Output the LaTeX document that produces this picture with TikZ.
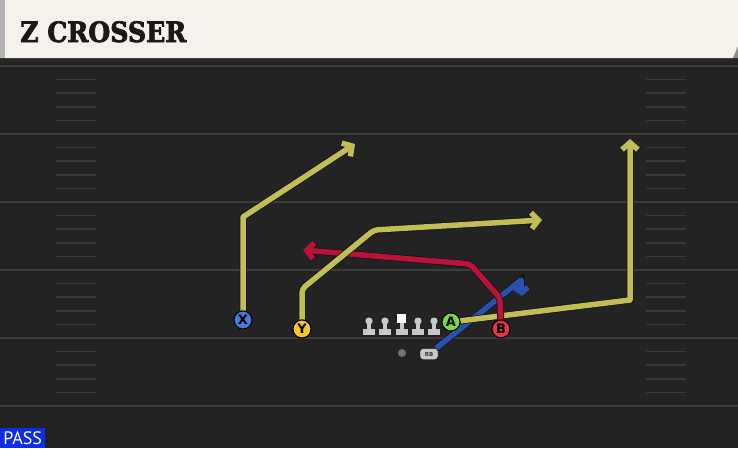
\documentclass[tikz,border=0pt]{standalone}
\usepackage{fontspec}
\newfontfamily\titlefont{DejaVu Serif Condensed}[BoldFeatures={FakeBold=2.5}]
\newfontfamily\letterfont{DejaVu Sans}
\newfontfamily\tagfont{PT Sans}
\usetikzlibrary{positioning, arrows.meta, shapes, backgrounds}

\definecolor{fieldgray}{RGB}{35,35,35}
\definecolor{yardgray}{RGB}{60,60,60}
\definecolor{hashgray}{RGB}{57,57,57}
\definecolor{titlecream}{RGB}{245,242,235}
\definecolor{passblue}{RGB}{15,45,230}
\definecolor{routeyellow}{RGB}{192,190,84}
\definecolor{routered}{RGB}{185,20,55}
\definecolor{routeblue}{RGB}{42,82,172}
\definecolor{routeedge}{RGB}{18,18,28}
\definecolor{xblue}{RGB}{72,122,212}
\definecolor{yyellow}{RGB}{245,200,40}
\definecolor{agreen}{RGB}{122,215,72}
\definecolor{bred}{RGB}{225,55,72}
\definecolor{olgray}{RGB}{200,200,200}

\tikzset{
  player/.style={shape=circle, draw=black, line width=1pt, fill=#1,
    minimum size=18pt, inner sep=0pt, font=\letterfont\bfseries\fontsize{13}{13}\selectfont},
  route/.style={draw=#1, line width=5.5pt, line join=round,
    -{Straight Barb[length=7pt, width=16pt]},
    preaction={draw=routeedge, line width=7pt}},
  yardline/.style={draw=yardgray, line width=2pt},
  hashmark/.style={draw=hashgray, line width=1.5pt}
}

\begin{document}
\begin{tikzpicture}[x=1pt, y=-1pt]
  \useasboundingbox (0,0) rectangle (738,448);

  % title bar
  \fill[black!85] (0,58) rectangle (738,63);
  \fill[titlecream] (0,0) -- (738,0) -- (738,46) -- (733,58) -- (0,58) -- cycle;
  \fill[black!45] (738,46) -- (738,58) -- (733,58) -- cycle;
  \fill[black!30] (0,0) rectangle (5,58);
  \node[anchor=base west, inner sep=0pt, text=black!90,
    font=\titlefont\bfseries\fontsize{28}{28}\selectfont] (title) at (20,42) {Z CROSSER};

  % line
  \foreach \x in {369,385,418,434} {
    \fill[olgray] (\x-6,329) rectangle (\x+6,335);
    \fill[olgray] (\x-2,321) rectangle (\x+2,330);
    \fill[olgray] (\x,321) circle (3.6);
  }
  \fill[olgray] (396,329) rectangle (408,335);
  \fill[olgray] (400,322) rectangle (404,330);
  \fill[white] (397,314) rectangle (406,323);

  \node[shape=circle, fill=black!55, minimum size=8pt, inner sep=0pt] (QB) at (402,353) {};
  \node[shape=rectangle, rounded corners=3pt, draw=black, fill=olgray,
    minimum width=18pt, minimum height=11pt, inner sep=0pt,
    font=\letterfont\bfseries\fontsize{5.5}{5.5}\selectfont, text=black!80] (RB) at (429,354) {RB};

  % receivers
  \node[player=xblue] (X) at (243,320) {X};
  \node[player=yyellow] (Y) at (302,329) {Y};
  \node[player=agreen] (A) at (451,322) {A};
  \node[player=bred] (B) at (501,329) {B};

  % routes
  \coordinate (Xbreak) at (243,217);
  \coordinate (Xend) at (355,144);
  \coordinate (Ybreak) at (302,289);
  \coordinate (Ycut) at (374,230);
  \coordinate (Yend) at (542,220);
  \coordinate (Bbreak) at (500,298);
  \coordinate (Bcut) at (470,264);
  \coordinate (Bend) at (303,250);
  \coordinate (Abreak) at (630,300);
  \coordinate (Aend) at (630,139);
  \coordinate (RBbreak) at (521,280);
  \coordinate (RBend) at (522,296);
  \begin{scope}[on background layer]
    \fill[fieldgray] (0,63) rectangle (738,448);
    \foreach \y in {66,134,202,270,338,406} {
      \draw[yardline] (0,\y) -- (738,\y);
    }
    \foreach \y in {66,134,202,270,338} {
      \foreach \k in {1,...,4} {
        \draw[hashmark] (56,\y+13.6*\k) -- (96,\y+13.6*\k);
        \draw[hashmark] (646,\y+13.6*\k) -- (686,\y+13.6*\k);
      }
    }
    \draw[route=routeblue, -{Straight Barb[length=5pt, width=13pt]}] (RB) -- (RBbreak) -- (RBend);
    \draw[route=routeyellow] (A) -- (Abreak) -- (Aend);
    \draw[route=routered, rounded corners=4pt] (B) -- (Bbreak) -- (Bcut) -- (Bend);
    \draw[route=routeyellow, rounded corners=4pt] (Y) -- (Ybreak) -- (Ycut) -- (Yend);
    \draw[route=routeyellow] (X) -- (Xbreak) -- (Xend);
  \end{scope}

  % play type
  \node[anchor=south west, fill=passblue, text=white, inner sep=0pt,
    minimum width=45pt, minimum height=20pt,
    font=\tagfont\fontsize{18}{18}\selectfont] (playtype) at (0,448) {PASS};
\end{tikzpicture}
\end{document}
